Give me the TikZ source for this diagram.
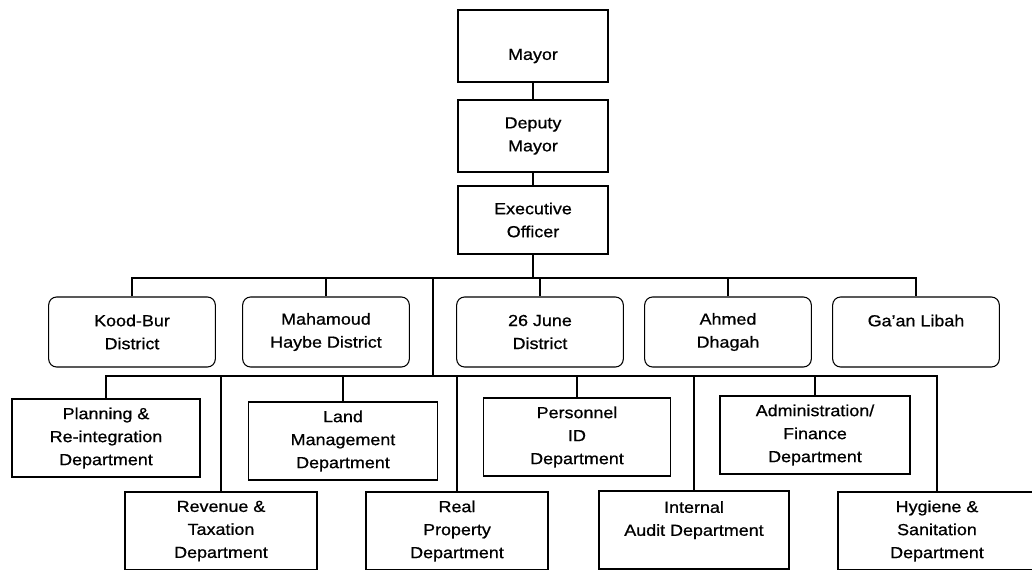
\documentclass[tikz,border=0pt]{standalone}
\usepackage{fontspec}
\setmainfont[FakeStretch=1.12,FakeBold=0.8]{Liberation Sans}
\usetikzlibrary{positioning}
\tikzstyle{box}=[rectangle,draw,line width=0.8pt,align=center,inner sep=0pt,font=\fontsize{12}{17.25}\selectfont]
\tikzstyle{office}=[box,minimum width=112.5pt,minimum height=54pt]
\tikzstyle{district}=[box,rounded corners=6pt,minimum width=125pt,minimum height=52.5pt]
\tikzstyle{dept}=[box,minimum height=58.5pt]
\tikzstyle{link}=[line width=0.8pt]
\begin{document}
\begin{tikzpicture}[x=0.75pt,y=-0.75pt]
\useasboundingbox (0,0) rectangle (1032,570);

\node (mayor) [office] at (533,46) {\strut\\[-6pt]Mayor} ;
\node (deputy) [office] at (533,136) {Deputy\\Mayor} ;
\node (exec) [office,minimum height=51pt] at (533,220) {Executive\\Officer} ;

\draw [link] (mayor) -- (deputy) ;
\draw [link] (deputy) -- (exec) ;

% districts
\coordinate (tb) at (0,278) ;
\node (kood) [district] at (132,332) {Kood-Bur\\District} ;
\node (maham) [district] at (326,332) {Mahamoud\\Haybe District} ;
\node (june) [district] at (540,332) {26 June\\District} ;
\node (ahmed) [district] at (728,332) {Ahmed\\Dhagah} ;
\node (gaan) [district] at (916,332) {Ga'an Libah\\\mbox{}} ;

\draw [link] (exec.south) -- (exec.south |- tb) ;
\draw [link] (kood.north) -- (kood.north |- tb) -- (gaan.north |- tb) -- (gaan.north) ;
\foreach \n in {maham,june,ahmed}
  \draw [link] (\n.north) -- (\n.north |- tb) ;

% departments
\coordinate (lb) at (0,376) ;
\coordinate (drop) at (433,278) ;
\node (plan) [dept,minimum width=141pt] at (106,438) {Planning \&\\Re-integration\\Department} ;
\node (rev) [dept,minimum width=144pt] at (221,531) {Revenue \&\\Taxation\\Department} ;
\node (land) [dept,minimum width=141.75pt] at (343,441) {Land\\Management\\Department} ;
\node (real) [dept,minimum width=136.5pt] at (457,531) {Real\\Property\\Department} ;
\node (pers) [dept,minimum width=140.25pt] at (577,437) {Personnel\\ID\\Department} ;
\node (audit) [dept,minimum width=142.5pt] at (694,530) {Internal\\Audit Department\\\mbox{}} ;
\node (admin) [dept,minimum width=142.5pt] at (815,435) {Administration/\\Finance\\Department} ;
\node (hyg) [dept,minimum width=148.5pt] at (937,531) {Hygiene \&\\Sanitation\\Department} ;

\draw [link] (drop) -- (drop |- lb) ;
\draw [link] (plan.north) -- (plan.north |- lb) -- (hyg.north |- lb) -- (hyg.north) ;
\foreach \n in {rev,land,real,pers,audit,admin}
  \draw [link] (\n.north) -- (\n.north |- lb) ;

\end{tikzpicture}
\end{document}
